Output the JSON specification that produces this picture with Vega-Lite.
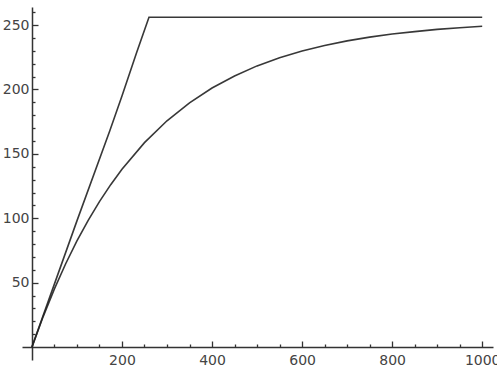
{
  "$schema": "https://vega.github.io/schema/vega-lite/v6.json",
  "width": 471,
  "height": 353,
  "autosize": {"type": "none"},
  "padding": {"left": 22, "top": 7, "right": 4, "bottom": 27},
  "config": {
    "view": {"stroke": null},
    "axis": {
      "grid": false,
      "title": null,
      "domainColor": "#333",
      "domainWidth": 1.5,
      "tickColor": "#333",
      "tickWidth": 1.3,
      "labelFont": "DejaVu Sans",
      "labelFontSize": 14,
      "labelColor": "#444",
      "format": "d"
    }
  },
  "data": {
    "values": [
      {"series": "clip", "x": 0, "y": 0},
      {"series": "clip", "x": 100, "y": 98},
      {"series": "clip", "x": 173, "y": 168},
      {"series": "clip", "x": 200, "y": 195},
      {"series": "clip", "x": 233, "y": 229},
      {"series": "clip", "x": 260, "y": 256},
      {"series": "clip", "x": 1000, "y": 256},
      {"series": "soft", "x": 0, "y": 0},
      {"series": "soft", "x": 25, "y": 23.7},
      {"series": "soft", "x": 50, "y": 45.2},
      {"series": "soft", "x": 75, "y": 64.7},
      {"series": "soft", "x": 100, "y": 82.4},
      {"series": "soft", "x": 125, "y": 98.4},
      {"series": "soft", "x": 150, "y": 112.9},
      {"series": "soft", "x": 175, "y": 126.1},
      {"series": "soft", "x": 200, "y": 138.1},
      {"series": "soft", "x": 250, "y": 158.7},
      {"series": "soft", "x": 300, "y": 175.7},
      {"series": "soft", "x": 350, "y": 189.6},
      {"series": "soft", "x": 400, "y": 201.1},
      {"series": "soft", "x": 450, "y": 210.5},
      {"series": "soft", "x": 500, "y": 218.3},
      {"series": "soft", "x": 550, "y": 224.6},
      {"series": "soft", "x": 600, "y": 229.8},
      {"series": "soft", "x": 650, "y": 234.1},
      {"series": "soft", "x": 700, "y": 237.7},
      {"series": "soft", "x": 750, "y": 240.6},
      {"series": "soft", "x": 800, "y": 243.0},
      {"series": "soft", "x": 850, "y": 244.9},
      {"series": "soft", "x": 900, "y": 246.6},
      {"series": "soft", "x": 950, "y": 247.9},
      {"series": "soft", "x": 1000, "y": 249.0}
    ]
  },
  "layer": [
    {
      "mark": {"type": "line", "color": "#222", "strokeWidth": 1.6, "opacity": 0.9},
      "encoding": {
        "x": {
          "field": "x", "type": "quantitative",
          "scale": {"domain": [-22, 1024], "nice": false, "zero": false},
          "axis": {"orient": "bottom", "offset": -13, "values": [200, 400, 600, 800, 1000], "tickSize": -6, "labelPadding": 12, "labelFlush": false, "labelOverlap": false}
        },
        "y": {
          "field": "y", "type": "quantitative",
          "scale": {"domain": [-10, 264], "nice": false, "zero": false},
          "axis": {"orient": "left", "offset": -10, "values": [50, 100, 150, 200, 250], "tickSize": -6, "labelPadding": 9, "labelFlush": false, "labelOverlap": false}
        },
        "detail": {"field": "series"}
      }
    },
    {
      "mark": {"type": "line", "opacity": 0},
      "encoding": {
        "x": {
          "field": "x", "type": "quantitative",
          "scale": {"domain": [-22, 1024], "nice": false, "zero": false},
          "axis": {"orient": "bottom", "offset": -13, "domain": false, "labels": false, "tickSize": -3, "values": [50, 100, 150, 250, 300, 350, 450, 500, 550, 650, 700, 750, 850, 900, 950]}
        },
        "y": {
          "field": "y", "type": "quantitative",
          "scale": {"domain": [-10, 264], "nice": false, "zero": false},
          "axis": {"orient": "left", "offset": -10, "domain": false, "labels": false, "tickSize": -3, "values": [10, 20, 30, 40, 60, 70, 80, 90, 110, 120, 130, 140, 160, 170, 180, 190, 210, 220, 230, 240, 260]}
        },
        "detail": {"field": "series"}
      }
    }
  ],
  "resolve": {"axis": {"x": "independent", "y": "independent"}}
}
